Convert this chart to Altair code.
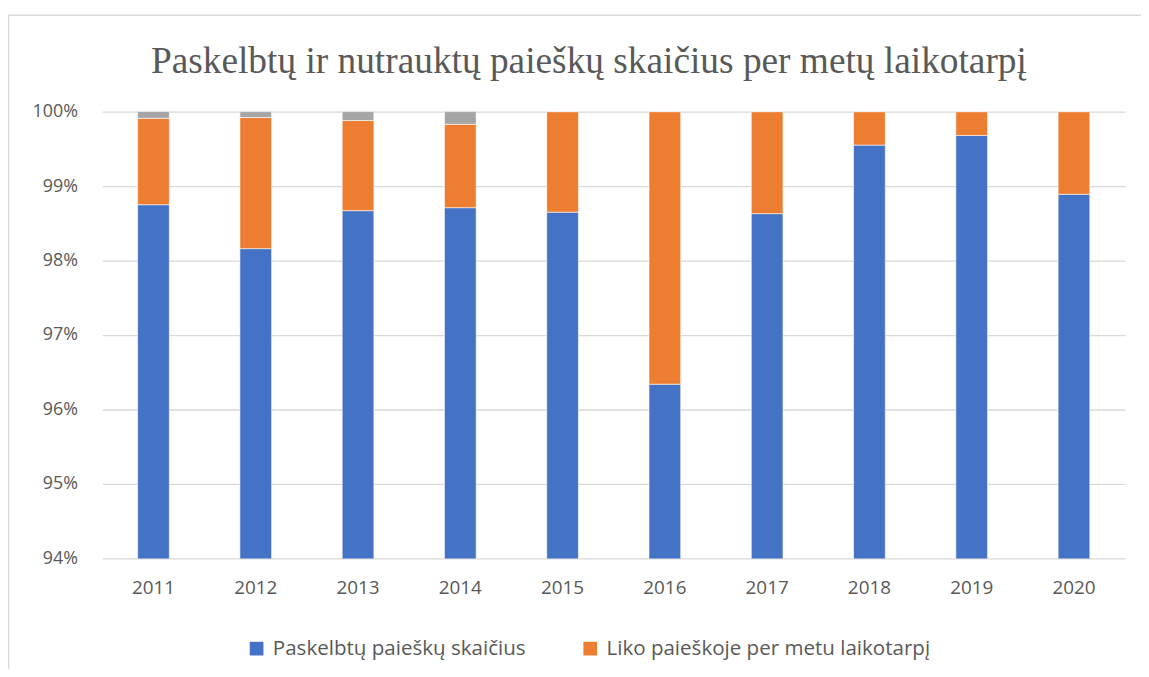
import altair as alt
import pandas as pd

years = ["2011", "2012", "2013", "2014", "2015", "2016", "2017", "2018", "2019", "2020"]
paskelbta = [98.75, 98.16, 98.67, 98.71, 98.65, 96.34, 98.63, 99.55, 99.68, 98.89]
liko = [1.16, 1.76, 1.21, 1.12, 1.35, 3.66, 1.37, 0.45, 0.32, 1.11]
nutraukta = [0.09, 0.08, 0.12, 0.17, 0.0, 0.0, 0.0, 0.0, 0.0, 0.0]

series_names = ["Paskelbtų paieškų skaičius", "Liko paieškoje per metu laikotarpį", "Nutrauktų paieškų skaičius"]
series_colors = ["#4472C4", "#ED7D31", "#A5A5A5"]

rows = []
for i, y in enumerate(years):
    for k, (name, vals) in enumerate(zip(series_names, [paskelbta, liko, nutraukta])):
        rows.append({"year": y, "series": name, "value": vals[i] / 100.0, "ord": k})
df = pd.DataFrame(rows)

FONT = "Open Sans"
TXT = "#595959"

bars = alt.Chart(df).mark_bar(clip=True, stroke="white", strokeWidth=0.6).encode(
    x=alt.X("year:N", title=None, sort=years,
            scale=alt.Scale(paddingInner=0.69, paddingOuter=0.345),
            axis=alt.Axis(labelAngle=0, labelFontSize=19, labelColor=TXT, labelFont=FONT,
                          ticks=False, domain=False, labelPadding=20, grid=False)),
    y=alt.Y("value:Q", title=None, stack="zero",
            scale=alt.Scale(domain=[0.94, 1.0], nice=False, zero=False),
            axis=alt.Axis(format=".0%", values=[0.94, 0.95, 0.96, 0.97, 0.98, 0.99, 1.0],
                          labelFontSize=18, labelColor=TXT, labelFont=FONT,
                          ticks=False, domain=False, labelPadding=25,
                          gridColor="#d9d9d9", gridWidth=1.3)),
    color=alt.Color("series:N", scale=alt.Scale(domain=series_names, range=series_colors),
                    legend=alt.Legend(values=series_names[:2], title=None, orient="none",
                                      direction="horizontal", legendX=145, legendY=530,
                                      symbolType="square", symbolSize=190, symbolStrokeWidth=0,
                                      labelFontSize=20.7, labelFont=FONT, labelColor=TXT,
                                      labelLimit=500,
                                      columnPadding=54, symbolOffset=0, labelOffset=6)),
    order=alt.Order("ord:Q", sort="ascending"),
)

frame = alt.Chart(pd.DataFrame({"a": [0]})).mark_rect(
    fill=None, stroke="#d9d9d9", strokeWidth=1.5, clip=False
).encode(
    x=alt.value(-94.5), x2=alt.value(1070), y=alt.value(-97), y2=alt.value(600)
)

chart = alt.layer(frame, bars).properties(
    width=1030, height=450,
    padding={"left": 95, "top": 102, "right": 16, "bottom": 109},
    autosize=alt.AutoSizeParams(type="none"),
    title=alt.TitleParams("Paskelbtų ir nutrauktų paieškų skaičius per metų laikotarpį",
                          font="Liberation Serif", fontSize=37.6, fontWeight="normal",
                          color=TXT, anchor="middle", frame="group", dx=-25, offset=-66),
).configure_view(stroke=None)

chart.save("out.html", embed_options={"renderer": "svg", "actions": False})
